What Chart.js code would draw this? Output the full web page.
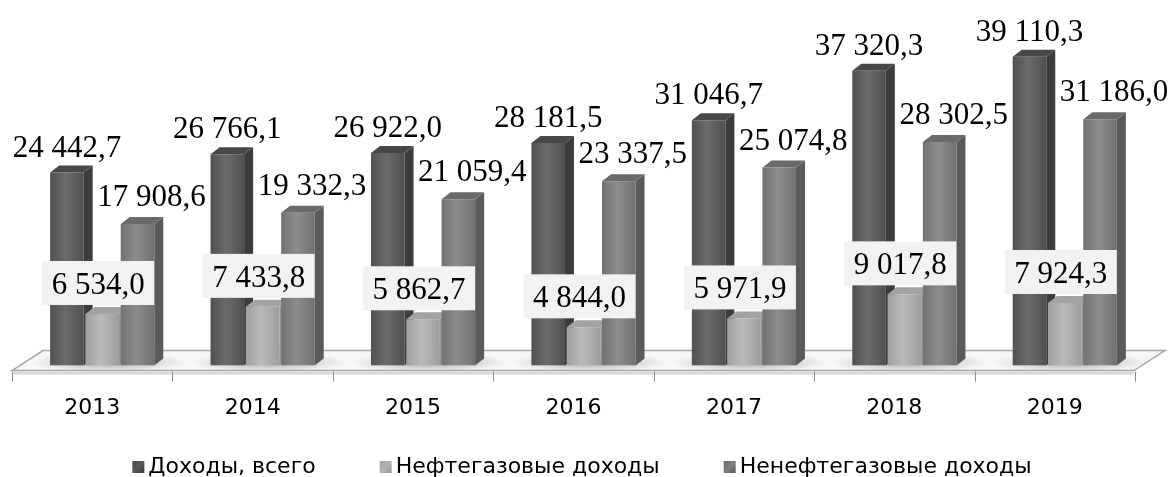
<!DOCTYPE html>
<html>
<head>
<meta charset="utf-8">
<script src="https://cdn.jsdelivr.net/npm/chart.js@4/dist/chart.umd.min.js"></script>
<style>
  html, body { margin: 0; padding: 0; background: #fff; }
  #wrap { width: 1174px; height: 477px; }
</style>
</head>
<body>
<div id="wrap"><canvas id="myBarChart"></canvas></div>
<script>
var years = ['2013', '2014', '2015', '2016', '2017', '2018', '2019'];
var total = [24442.7, 26766.1, 26922.0, 28181.5, 31046.7, 37320.3, 39110.3];
var oil = [6534.0, 7433.8, 5862.7, 4844.0, 5971.9, 9017.8, 7924.3];
var nonOil = [17908.6, 19332.3, 21059.4, 23337.5, 25074.8, 28302.5, 31186.0];
var seriesNames = ['Доходы, всего', 'Нефтегазовые доходы', 'Ненефтегазовые доходы'];

// faces of the 3d bars: front, side, top
var faceFront = ['#5a5a5a', '#b2b2b2', '#7f7f7f'];
var faceSide = ['#3c3c3c', '#959595', '#5a5a5a'];
var faceTop = ['#484848', '#a3a3a3', '#6a6a6a'];
var depth = { dx: 9, dy: -7 };

function fmt(v) {
  var s = v.toFixed(1).split('.');
  return s[0].replace(/\B(?=(\d{3})+(?!\d))/g, ' ') + ',' + s[1];
}

const bars3d = {
  id: 'bars3d',
  beforeDatasetsDraw(chart) {
    const ctx = chart.ctx, a = chart.chartArea;
    const n = years.length, cw = a.width / n;
    const fy = a.bottom + 5, x0 = a.left - 10, x1 = a.right - 11;
    ctx.save();
    // floor
    ctx.beginPath();
    ctx.moveTo(x0, fy);
    ctx.lineTo(x0 + 31, fy - 20);
    ctx.lineTo(x1 + 31, fy - 20);
    ctx.lineTo(x1, fy);
    ctx.closePath();
    ctx.fillStyle = '#f7f7f7';
    ctx.fill();
    // soft shadows under groups
    for (let i = 0; i < n; i++) {
      const cx = a.left + cw * (i + 0.5) + 6;
      ctx.save();
      ctx.translate(cx, fy - 8);
      ctx.scale(1, 0.13);
      const g = ctx.createRadialGradient(0, 0, 5, 0, 0, 78);
      g.addColorStop(0, 'rgba(0,0,0,0.28)');
      g.addColorStop(1, 'rgba(0,0,0,0)');
      ctx.fillStyle = g;
      ctx.beginPath();
      ctx.arc(0, 0, 78, 0, Math.PI * 2);
      ctx.fill();
      ctx.restore();
    }
    ctx.beginPath();
    ctx.moveTo(x0, fy);
    ctx.lineTo(x0 + 31, fy - 20);
    ctx.lineTo(x1 + 31, fy - 20);
    ctx.lineTo(x1, fy);
    ctx.closePath();
    ctx.strokeStyle = '#a6a6a6';
    ctx.lineWidth = 1.5;
    ctx.stroke();
    ctx.fillStyle = '#d9d9d9';
    ctx.fillRect(x0, fy + 1, x1 - x0, 3);
    // tick marks at category borders
    ctx.strokeStyle = '#8c8c8c';
    ctx.lineWidth = 1;
    for (let i = 0; i <= n; i++) {
      const tx = Math.round(a.left + cw * i - 10) + 0.5;
      ctx.beginPath();
      ctx.moveTo(tx, fy + 1);
      ctx.lineTo(tx, fy + 11);
      ctx.stroke();
    }
    // side and top faces
    chart.data.datasets.forEach(function (ds, di) {
      chart.getDatasetMeta(di).data.forEach(function (b) {
        const l = b.x - b.width / 2, r = b.x + b.width / 2;
        ctx.fillStyle = faceSide[di];
        ctx.beginPath();
        ctx.moveTo(r, b.y);
        ctx.lineTo(r + depth.dx, b.y + depth.dy);
        ctx.lineTo(r + depth.dx, b.base + depth.dy);
        ctx.lineTo(r, b.base);
        ctx.closePath();
        ctx.fill();
        ctx.fillStyle = faceTop[di];
        ctx.beginPath();
        ctx.moveTo(l, b.y);
        ctx.lineTo(l + depth.dx, b.y + depth.dy);
        ctx.lineTo(r + depth.dx, b.y + depth.dy);
        ctx.lineTo(r, b.y);
        ctx.closePath();
        ctx.fill();
      });
    });
    ctx.restore();
  },
  afterDatasetsDraw(chart) {
    const ctx = chart.ctx;
    ctx.save();
    // light sheen on the fronts
    chart.data.datasets.forEach(function (ds, di) {
      chart.getDatasetMeta(di).data.forEach(function (b) {
        const l = b.x - b.width / 2;
        const g = ctx.createLinearGradient(l, 0, l + b.width, 0);
        g.addColorStop(0, 'rgba(0,0,0,0.10)');
        g.addColorStop(0.45, 'rgba(255,255,255,0.10)');
        g.addColorStop(1, 'rgba(0,0,0,0.12)');
        ctx.fillStyle = g;
        ctx.fillRect(l, b.y, b.width, b.base - b.y);
      });
    });
    ctx.font = '31px "Liberation Serif", "Times New Roman", serif';
    ctx.textAlign = 'center';
    ctx.textBaseline = 'alphabetic';
    const m0 = chart.getDatasetMeta(0).data;
    const m1 = chart.getDatasetMeta(1).data;
    const m2 = chart.getDatasetMeta(2).data;
    for (let i = 0; i < years.length; i++) {
      // oil box
      const b1 = m1[i];
      const bw = 112, bh = 44, bx = b1.x - 4 - bw / 2, by = b1.y - 9 - bh;
      ctx.fillStyle = '#f2f2f2';
      ctx.fillRect(bx, by, bw, bh);
      ctx.fillStyle = '#000';
      ctx.fillText(fmt(oil[i]), b1.x - 4, by + 33);
      ctx.fillText(fmt(total[i]), m0[i].x, m0[i].y - 16);
      ctx.fillText(fmt(nonOil[i]), m2[i].x + 14, m2[i].y - 18);
    }
    ctx.restore();
  },
  afterDraw(chart) {
    // legend
    const ctx = chart.ctx;
    ctx.save();
    ctx.font = '22px "DejaVu Sans", sans-serif';
    ctx.textBaseline = 'middle';
    const box = 12, gapIn = 4, gapOut = 64, y = 467;
    const widths = seriesNames.map(function (t) { return ctx.measureText(t).width; });
    let full = 0;
    widths.forEach(function (w, i) { full += box + gapIn + w + (i ? gapOut : 0); });
    let x = chart.width / 2 - 5 - full / 2;
    seriesNames.forEach(function (t, i) {
      const g = ctx.createLinearGradient(x, y - box / 2, x + box, y + box / 2);
      g.addColorStop(0, faceTop[i]);
      g.addColorStop(0.5, faceFront[i]);
      g.addColorStop(1, faceSide[i]);
      ctx.fillStyle = g;
      ctx.fillRect(x, y - box / 2, box, box);
      ctx.fillStyle = '#000';
      ctx.fillText(t, x + box + gapIn, y);
      x += box + gapIn + widths[i] + gapOut;
    });
    ctx.restore();
  }
};

var ctxBar = document.getElementById('myBarChart');
var myBarChart = new Chart(ctxBar, {
  type: 'bar',
  data: {
    labels: years,
    datasets: [
      {
        label: seriesNames[0],
        data: total,
        backgroundColor: faceFront[0],
        categoryPercentage: 0.66,
        barPercentage: 0.95,
      }, // total
      {
        label: seriesNames[1],
        data: oil,
        backgroundColor: faceFront[1],
        categoryPercentage: 0.66,
        barPercentage: 0.95,
      }, // oil and gas
      {
        label: seriesNames[2],
        data: nonOil,
        backgroundColor: faceFront[2],
        categoryPercentage: 0.66,
        barPercentage: 0.95,
      }, // non oil and gas
    ],
  },
  plugins: [bars3d],
  options: {
    responsive: true,
    maintainAspectRatio: false,
    animation: false,
    layout: {
      padding: { left: 22, right: 29, top: 18, bottom: 27 }
    },
    plugins: {
      legend: { display: false },
      tooltip: { enabled: false },
    },
    scales: {
      x: {
        grid: { display: false, drawTicks: false },
        border: { display: false },
        ticks: {
          color: '#000',
          padding: 29,
          labelOffset: -10,
          font: { family: '"DejaVu Sans", sans-serif', size: 22 }
        }
      },
      y: {
        display: false,
        min: 0,
        max: 44000,
      }
    }
  }
});
</script>
</body>
</html>
